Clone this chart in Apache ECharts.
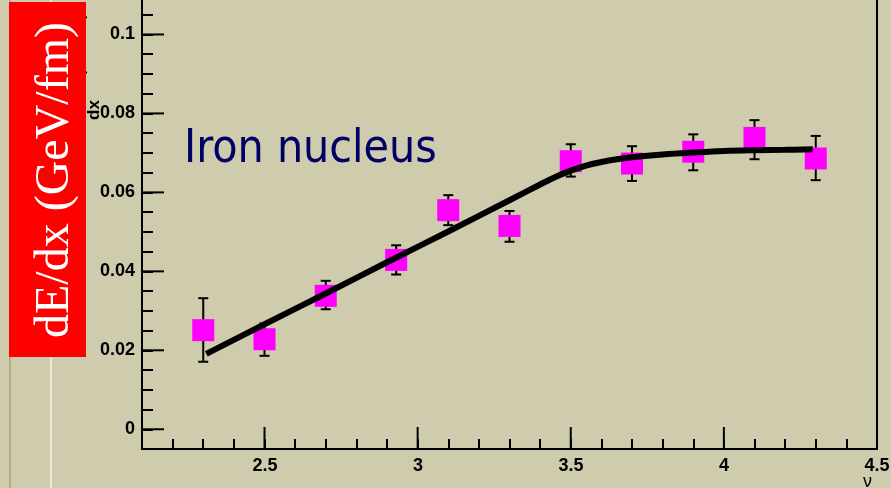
<!DOCTYPE html>
<html>
<head>
<meta charset="utf-8">
<title>dE/dx iron nucleus</title>
<script src="https://cdn.jsdelivr.net/npm/echarts@6/dist/echarts.min.js"></script>
<style>
  html, body { margin: 0; padding: 0; background: #cfcbad; }
  #chart { width: 891px; height: 488px; }
</style>
</head>
<body>
<div id="chart"></div>
<script>
// measured points (x = nu, y = dE/dx) with error bar ends
var pointX   = [2.3, 2.5, 2.7, 2.93, 3.1, 3.3, 3.5, 3.7, 3.9, 4.1, 4.3];
var pointY   = [0.0251, 0.0228, 0.0338, 0.0429, 0.0555, 0.0515, 0.0679, 0.0673, 0.0703, 0.0738, 0.0686];
var errLow   = [0.0171, 0.0186, 0.0304, 0.0392, 0.0517, 0.0475, 0.0640, 0.0629, 0.0656, 0.0684, 0.0631];
var errHigh  = [0.0332, 0.0268, 0.0376, 0.0466, 0.0593, 0.0553, 0.0722, 0.0717, 0.0747, 0.0783, 0.0743];
// theory curve
var curveX = [2.31, 2.5, 2.7, 2.9, 3.1, 3.3, 3.4, 3.45, 3.5, 3.55, 3.6, 3.65, 3.7, 3.8, 3.9, 4.0, 4.1, 4.2, 4.29];
var curveY = [0.0191, 0.0266, 0.0344, 0.0423, 0.0501, 0.0580, 0.0620, 0.0639, 0.0655, 0.0668, 0.0677, 0.0684, 0.0689, 0.0696, 0.0701, 0.0705, 0.0707, 0.0708, 0.0709];
// labelled (major) ticks
var xMajor = [2.5, 3, 3.5, 4, 4.5];
var yMajor = [0, 0.02, 0.04, 0.06, 0.08, 0.1];

var X_MIN = 2.1, X_MAX = 4.5, Y_MIN = -0.005, Y_MAX = 0.11;

(function(){
  var chartDom = document.getElementById('chart');
  var myChart = echarts.init(chartDom);
  var option;

  var pts = pointX.map(function(x, i){ return [x, pointY[i]]; });
  var bars = pointX.map(function(x, i){ return [x, errLow[i], errHigh[i]]; });
  var curve = curveX.map(function(x, i){ return [x, curveY[i]]; });

  var labelFont = {
    color: '#000',
    fontFamily: 'Liberation Sans',
    fontWeight: 'bold',
    fontSize: 18
  };
  var blackLine = { color: '#000', width: 2 };
  var tickStyle = { stroke: '#000', lineWidth: 2 };

  option = {
    backgroundColor: '#cfcbad',
    animation: false,
    grid: [
      // data frame (minor ticks)
      { left: 142, right: 14, top: -5, bottom: 39, outerBoundsMode: 'none', show: true, borderColor: '#000', borderWidth: 2, backgroundColor: 'transparent' },
      // x labels, from 2.5 to 4.5
      { left: 265, right: 14, top: -5, bottom: 39, outerBoundsMode: 'none' },
      // y labels, from 0 to 0.1
      { left: 142, right: 14, top: 34, bottom: 59, outerBoundsMode: 'none' }
    ],
    xAxis: [
      {
        type: 'value', gridIndex: 0, min: X_MIN, max: X_MAX, interval: 0.1,
        axisLine: { show: true, onZero: false, lineStyle: blackLine },
        axisTick: { show: true, inside: true, length: 10, lineStyle: blackLine },
        axisLabel: { show: false },
        splitLine: { show: false }
      },
      {
        type: 'value', gridIndex: 1, min: 2.5, max: 4.5, interval: 0.5,
        axisLine: { show: false },
        axisTick: { show: false },
        axisLabel: Object.assign({ margin: 8 }, labelFont),
        splitLine: { show: false },
        name: 'ν',
        nameLocation: 'end',
        nameGap: -14,
        nameMoveOverlap: false,
        nameTextStyle: { color: '#000', fontFamily: 'Liberation Sans', fontSize: 18, align: 'left', verticalAlign: 'top', padding: [24, 0, 0, 0] }
      },
      { type: 'value', gridIndex: 2, show: false, min: 0, max: 1 }
    ],
    yAxis: [
      {
        type: 'value', gridIndex: 0, min: Y_MIN, max: Y_MAX, interval: 0.005,
        axisLine: { show: true, onZero: false, lineStyle: blackLine },
        axisTick: { show: true, inside: true, length: 11, lineStyle: blackLine },
        axisLabel: { show: false },
        splitLine: { show: false }
      },
      { type: 'value', gridIndex: 1, show: false, min: 0, max: 1 },
      {
        type: 'value', gridIndex: 2, min: 0, max: 0.1, interval: 0.02,
        axisLine: { show: false },
        axisTick: { show: false },
        axisLabel: Object.assign({ margin: 7 }, labelFont),
        splitLine: { show: false }
      }
    ],
    series: [
      {
        // long major ticks on the x axis
        type: 'custom',
        xAxisIndex: 0, yAxisIndex: 0,
        z: 1, silent: true,
        data: xMajor.map(function(v){ return [v, Y_MIN]; }),
        renderItem: function(params, api){
          var p = api.coord([api.value(0), api.value(1)]);
          return { type: 'line', shape: { x1: p[0], y1: p[1], x2: p[0], y2: p[1] - 22 }, style: tickStyle };
        }
      },
      {
        // long major ticks on the y axis
        type: 'custom',
        xAxisIndex: 0, yAxisIndex: 0,
        z: 1, silent: true,
        data: yMajor.map(function(v){ return [X_MIN, v]; }),
        renderItem: function(params, api){
          var p = api.coord([api.value(0), api.value(1)]);
          return { type: 'line', shape: { x1: p[0], y1: p[1], x2: p[0] + 22, y2: p[1] }, style: tickStyle };
        }
      },
      {
        // error bars
        type: 'custom',
        xAxisIndex: 0, yAxisIndex: 0,
        z: 2,
        data: bars,
        renderItem: function(params, api){
          var x = api.value(0);
          var lo = api.coord([x, api.value(1)]);
          var hi = api.coord([x, api.value(2)]);
          var cap = 5;
          var st = { stroke: '#000', lineWidth: 2 };
          return {
            type: 'group',
            children: [
              { type: 'line', shape: { x1: lo[0], y1: lo[1], x2: hi[0], y2: hi[1] }, style: st },
              { type: 'line', shape: { x1: lo[0] - cap, y1: lo[1], x2: lo[0] + cap, y2: lo[1] }, style: st },
              { type: 'line', shape: { x1: hi[0] - cap, y1: hi[1], x2: hi[0] + cap, y2: hi[1] }, style: st }
            ]
          };
        }
      },
      {
        type: 'scatter',
        xAxisIndex: 0, yAxisIndex: 0,
        z: 3,
        symbol: 'rect',
        symbolSize: [22, 22],
        itemStyle: { color: '#ff00ff', opacity: 1 },
        data: pts
      },
      {
        type: 'line',
        xAxisIndex: 0, yAxisIndex: 0,
        z: 4,
        smooth: 0.4,
        showSymbol: false,
        lineStyle: { color: '#000', width: 6 },
        data: curve
      }
    ],
    graphic: [
      // slide decorations on the left
      { type: 'rect', z: 1, shape: { x: 9, y: 0, width: 2, height: 488 }, style: { fill: '#b8ab7c' } },
      { type: 'rect', z: 1, shape: { x: 50, y: 0, width: 2, height: 488 }, style: { fill: '#ece8d6' } },
      // remains of the original axis title
      { type: 'text', z: 5, x: 80, y: 45, rotation: Math.PI / 2,
        style: { text: '(GeV/fm)', font: 'bold 15px Liberation Sans', fill: '#000', align: 'center', verticalAlign: 'middle' } },
      { type: 'text', z: 5, x: 94, y: 110, rotation: Math.PI / 2,
        style: { text: 'dx', font: 'bold 17px Liberation Sans', fill: '#000', align: 'center', verticalAlign: 'middle' } },
      // red title box
      { type: 'rect', z: 10, shape: { x: 9, y: 2, width: 77, height: 355 }, style: { fill: '#ff0000' } },
      { type: 'text', z: 11, x: 55, y: 180, rotation: Math.PI / 2,
        style: { text: 'dE/dx (GeV/fm)', font: '48px Liberation Serif', fill: '#fff', align: 'center', verticalAlign: 'middle' } },
      // annotation
      { type: 'text', z: 11, x: 184, y: 127,
        style: { text: 'Iron nucleus', font: '46px "DejaVu Sans Condensed", "Liberation Sans", sans-serif', fill: '#000066', align: 'left', verticalAlign: 'top' } }
    ]
  };

  option && myChart.setOption(option);
})();
</script>
</body>
</html>
